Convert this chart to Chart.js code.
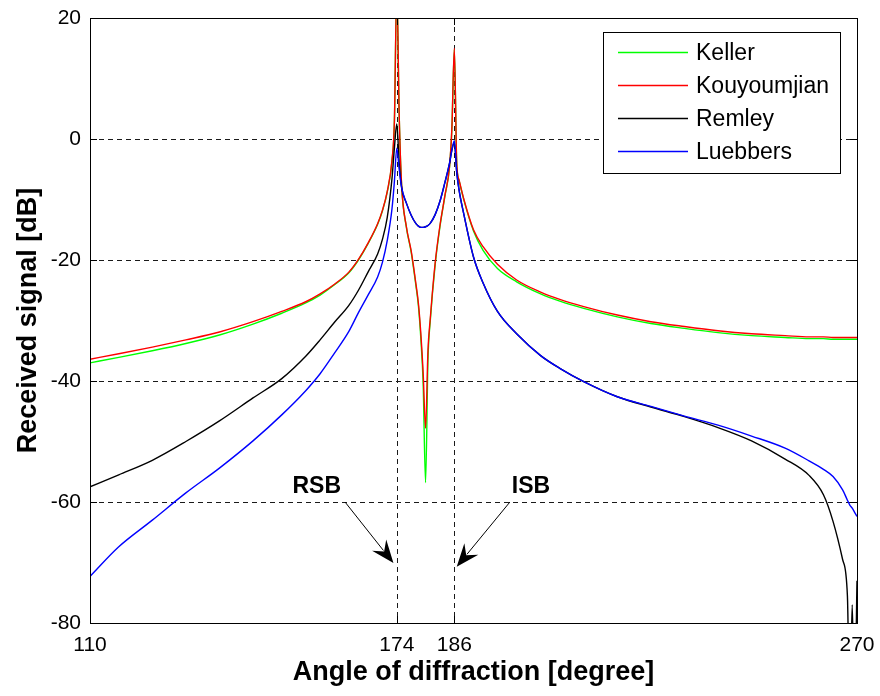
<!DOCTYPE html>
<html>
<head>
<meta charset="utf-8">
<title>Received signal vs angle of diffraction</title>
<script src="https://cdn.jsdelivr.net/npm/chart.js@4.4.1/dist/chart.umd.min.js"></script>
<style>
  html, body { margin: 0; padding: 0; background: #fff; }
  #wrap { width: 880px; height: 696px; }
</style>
</head>
<body>
<div id="wrap"><canvas id="diffChart" width="880" height="696"></canvas></div>
<script>
// --- angle samples [degree], denser around RSB (174) and ISB (186) ---
const angles = [
  110, 116, 123, 130, 137, 144, 150, 155, 158, 161, 164, 166, 168, 170, 171,
  172, 173, 173.5, 174, 174.5, 175, 176, 177, 178, 178.5, 179, 179.5, 180,
  180.5, 181, 182, 183, 184, 185, 185.5, 186, 186.5, 187, 188, 190, 192, 195,
  199, 204, 208, 213, 220, 227, 234, 241, 248, 255, 260, 263, 265, 267, 268,
  268.5, 269, 269.5, 270
];

// --- received signal [dB] per diffraction coefficient ---
const keller = [
  -37.0, -36.1, -35.0, -33.8, -32.4, -30.6, -28.8, -27.1, -25.8, -24.1, -22.1, -20.0, -17.3, -14.1, -11.9,
  -8.8, -3.6, 2.9, 25, 3.9, -7.6, -14.6, -18.7, -24.3, -27.5, -32.8, -40.5, -56.8,
  -36.5, -29.9, -20.8, -14.5, -9.6, -4.6, 1.9, 14.8, -4.1, -6.9, -10.1, -15.2, -18.4, -21.4,
  -23.6, -25.6, -26.8, -28.0, -29.4, -30.5, -31.3, -32.0, -32.5, -32.8, -33.0, -33.0, -33.1, -33.1, -33.1,
  -33.1, -33.1, -33.1, -33.1
];
const kouyoumjian = [
  -36.4, -35.5, -34.4, -33.2, -31.9, -30.2, -28.5, -26.9, -25.6, -24.0, -22.0, -19.9, -17.2, -14.0, -11.8,
  -8.7, -3.5, 3.0, 25, 4.0, -7.5, -14.5, -18.5, -24.0, -27.1, -32.0, -38.7, -47.8,
  -35.0, -29.5, -20.5, -14.3, -9.5, -4.5, 2.0, 15.0, -4.0, -6.8, -10.0, -15.0, -17.8, -20.7,
  -23.3, -25.3, -26.5, -27.7, -29.1, -30.2, -31.0, -31.7, -32.2, -32.5, -32.7, -32.7, -32.8, -32.8, -32.8,
  -32.8, -32.8, -32.8, -32.8
];
const remley = [
  -57.5, -55.5, -53.1, -50.0, -46.6, -42.8, -39.6, -35.9, -33.2, -30.3, -27.5, -25.0, -22.0, -19.0, -16.6,
  -13.0, -6.5, -1.5, 2.5, -4.0, -8.0, -10.6, -12.6, -14.0, -14.4, -14.6, -14.6, -14.5,
  -14.3, -13.9, -12.5, -10.3, -7.3, -4.0, -1.8, -0.6, -5.5, -8.5, -12.5, -19.5, -23.8, -28.5,
  -32.2, -35.8, -37.9, -40.1, -42.6, -44.3, -45.9, -47.7, -49.9, -52.9, -55.6, -58.8, -63.2, -69.5, -75.5,
  -95, -77, -95, -73
];
const luebbers = [
  -72.3, -67.4, -63.0, -58.5, -54.4, -49.9, -45.6, -41.6, -38.8, -35.4, -31.8, -28.7, -25.8, -22.8, -20.4,
  -16.8, -11.5, -7.0, -1.5, -5.0, -8.0, -10.6, -12.6, -14.0, -14.4, -14.6, -14.6, -14.5,
  -14.3, -13.9, -12.5, -10.3, -7.3, -4.0, -1.8, -0.3, -5.5, -8.5, -12.5, -19.5, -23.8, -28.5,
  -32.2, -35.8, -37.9, -40.1, -42.6, -44.2, -45.8, -47.3, -49.1, -51.1, -53.2, -54.6, -55.8, -58.0, -59.7,
  -60.5, -61.0, -61.7, -62.4
];

const seriesNames = ['Keller', 'Kouyoumjian', 'Remley', 'Luebbers'];
const xTicks = [110, 174, 186, 270];
const yTicks = [20, 0, -20, -40, -60, -80];
const boundaryAngles = [174, 186];   // RSB / ISB
const gridLevels = [0, -20, -40, -60];

const FONT = '"Liberation Sans", Arial, Helvetica, sans-serif';
const colors = ['#00ff00', '#ff0000', '#000000', '#0000ff'];
const values = [keller, kouyoumjian, remley, luebbers];

const toPoints = ys => angles.map((a, i) => ({ x: a, y: ys[i] }));

// dashed grid, box with inward ticks, legend and RSB/ISB arrows
const axesDecor = {
  id: 'axesDecor',
  beforeDatasetsDraw(chart) {
    const { ctx, chartArea: a, scales: { x, y } } = chart;
    ctx.save();
    ctx.strokeStyle = '#1a1a1a';
    ctx.lineWidth = 1;
    ctx.setLineDash([5, 4]);
    ctx.beginPath();
    gridLevels.forEach(v => {
      const py = Math.round(y.getPixelForValue(v)) + 0.5;
      ctx.moveTo(a.left, py); ctx.lineTo(a.right, py);
    });
    boundaryAngles.forEach(v => {
      const px = Math.round(x.getPixelForValue(v)) + 0.5;
      ctx.moveTo(px, a.top); ctx.lineTo(px, a.bottom);
    });
    ctx.stroke();
    ctx.restore();
  },
  afterDatasetsDraw(chart) {
    const { ctx, chartArea: a, scales: { x, y } } = chart;
    ctx.save();
    ctx.strokeStyle = '#000';
    ctx.lineWidth = 1;
    ctx.setLineDash([]);
    // axes box
    ctx.strokeRect(a.left + 0.5, a.top + 0.5, a.right - a.left, a.bottom - a.top);
    // inward ticks on all four sides
    const tl = 7;
    ctx.beginPath();
    yTicks.forEach(v => {
      const py = Math.round(y.getPixelForValue(v)) + 0.5;
      ctx.moveTo(a.left, py); ctx.lineTo(a.left + tl, py);
      ctx.moveTo(a.right, py); ctx.lineTo(a.right - tl, py);
    });
    xTicks.forEach(v => {
      const px = Math.round(x.getPixelForValue(v)) + 0.5;
      ctx.moveTo(px, a.bottom); ctx.lineTo(px, a.bottom - tl);
      ctx.moveTo(px, a.top); ctx.lineTo(px, a.top + tl);
    });
    ctx.stroke();

    // RSB / ISB labels with arrows
    const notes = [
      { text: 'RSB', at: [157.3, -57.5], from: [163.2, -60], to: [173.3, -70.1] },
      { text: 'ISB', at: [202.0, -57.5], from: [197.6, -60], to: [186.5, -70.7] }
    ];
    ctx.font = 'bold 23px ' + FONT;
    ctx.fillStyle = '#000';
    ctx.textAlign = 'center';
    ctx.textBaseline = 'middle';
    notes.forEach(n => {
      ctx.fillText(n.text, x.getPixelForValue(n.at[0]), y.getPixelForValue(n.at[1]));
      const x0 = x.getPixelForValue(n.from[0]), y0 = y.getPixelForValue(n.from[1]);
      const x1 = x.getPixelForValue(n.to[0]), y1 = y.getPixelForValue(n.to[1]);
      const len = Math.hypot(x1 - x0, y1 - y0);
      const ux = (x1 - x0) / len, uy = (y1 - y0) / len;
      const hl = 23, hw = 9;
      ctx.beginPath();
      ctx.moveTo(x0, y0);
      ctx.lineTo(x1 - ux * hl * 0.7, y1 - uy * hl * 0.7);
      ctx.stroke();
      ctx.beginPath();
      ctx.moveTo(x1, y1);
      ctx.lineTo(x1 - ux * hl - uy * hw, y1 - uy * hl + ux * hw);
      ctx.lineTo(x1 - ux * hl * 0.65, y1 - uy * hl * 0.65);
      ctx.lineTo(x1 - ux * hl + uy * hw, y1 - uy * hl - ux * hw);
      ctx.closePath();
      ctx.fill();
    });

    // legend box, top right inside the axes
    const bw = 237, bh = 141;
    const bx = a.right - 17 - bw, by = a.top + 14;
    ctx.fillStyle = '#fff';
    ctx.fillRect(bx, by, bw, bh);
    ctx.strokeStyle = '#000';
    ctx.strokeRect(bx + 0.5, by + 0.5, bw, bh);
    ctx.font = '23px ' + FONT;
    ctx.textAlign = 'left';
    chart.data.datasets.forEach((ds, i) => {
      const ry = by + 20.5 + i * 33;
      ctx.strokeStyle = ds.borderColor;
      ctx.lineWidth = 1.3;
      ctx.beginPath();
      ctx.moveTo(bx + 15, ry); ctx.lineTo(bx + 85, ry);
      ctx.stroke();
      ctx.fillStyle = '#000';
      ctx.fillText(ds.label, bx + 93, ry + 1);
    });
    ctx.restore();
  }
};

new Chart(document.getElementById('diffChart'), {
  type: 'line',
  data: {
    datasets: seriesNames.map((name, i) => ({
      label: name,
      data: toPoints(values[i]),
      borderColor: colors[i],
      borderWidth: 1.4,
      pointRadius: 0,
      cubicInterpolationMode: 'monotone',
      clip: 0,
      order: seriesNames.length - i   // later curves drawn on top
    }))
  },
  options: {
    responsive: false,
    animation: false,
    devicePixelRatio: 1,
    layout: { padding: { top: 18, right: 23, left: 0, bottom: 0 } },
    plugins: { legend: { display: false }, tooltip: { enabled: false } },
    scales: {
      x: {
        type: 'linear',
        min: 110,
        max: 270,
        afterBuildTicks: s => { s.ticks = xTicks.map(v => ({ value: v })); },
        // fixed band below the axes; end labels may overhang the padding
        afterFit: s => { s.height = 73; s.paddingLeft = 0; s.paddingRight = 0; },
        grid: { display: false, drawTicks: false },
        border: { display: false },
        ticks: {
          autoSkip: false, maxRotation: 0, padding: 10,
          color: '#000', font: { family: FONT, size: 21 }
        },
        title: {
          display: true, text: 'Angle of diffraction [degree]', color: '#000',
          font: { family: FONT, size: 27, weight: 'bold' },
          padding: { top: 0, bottom: 7 }
        }
      },
      y: {
        type: 'linear',
        min: -80,
        max: 20,
        afterBuildTicks: s => { s.ticks = yTicks.map(v => ({ value: v })); },
        afterFit: s => { s.width = 90; s.paddingTop = 0; s.paddingBottom = 0; },
        grid: { display: false, drawTicks: false },
        border: { display: false },
        ticks: {
          padding: 9,
          color: '#000', font: { family: FONT, size: 21 }
        },
        title: {
          display: true, text: 'Received signal [dB]', color: '#000',
          font: { family: FONT, size: 27, weight: 'bold' },
          padding: { top: 12, bottom: 0 }
        }
      }
    }
  },
  plugins: [axesDecor]
});
</script>
</body>
</html>
